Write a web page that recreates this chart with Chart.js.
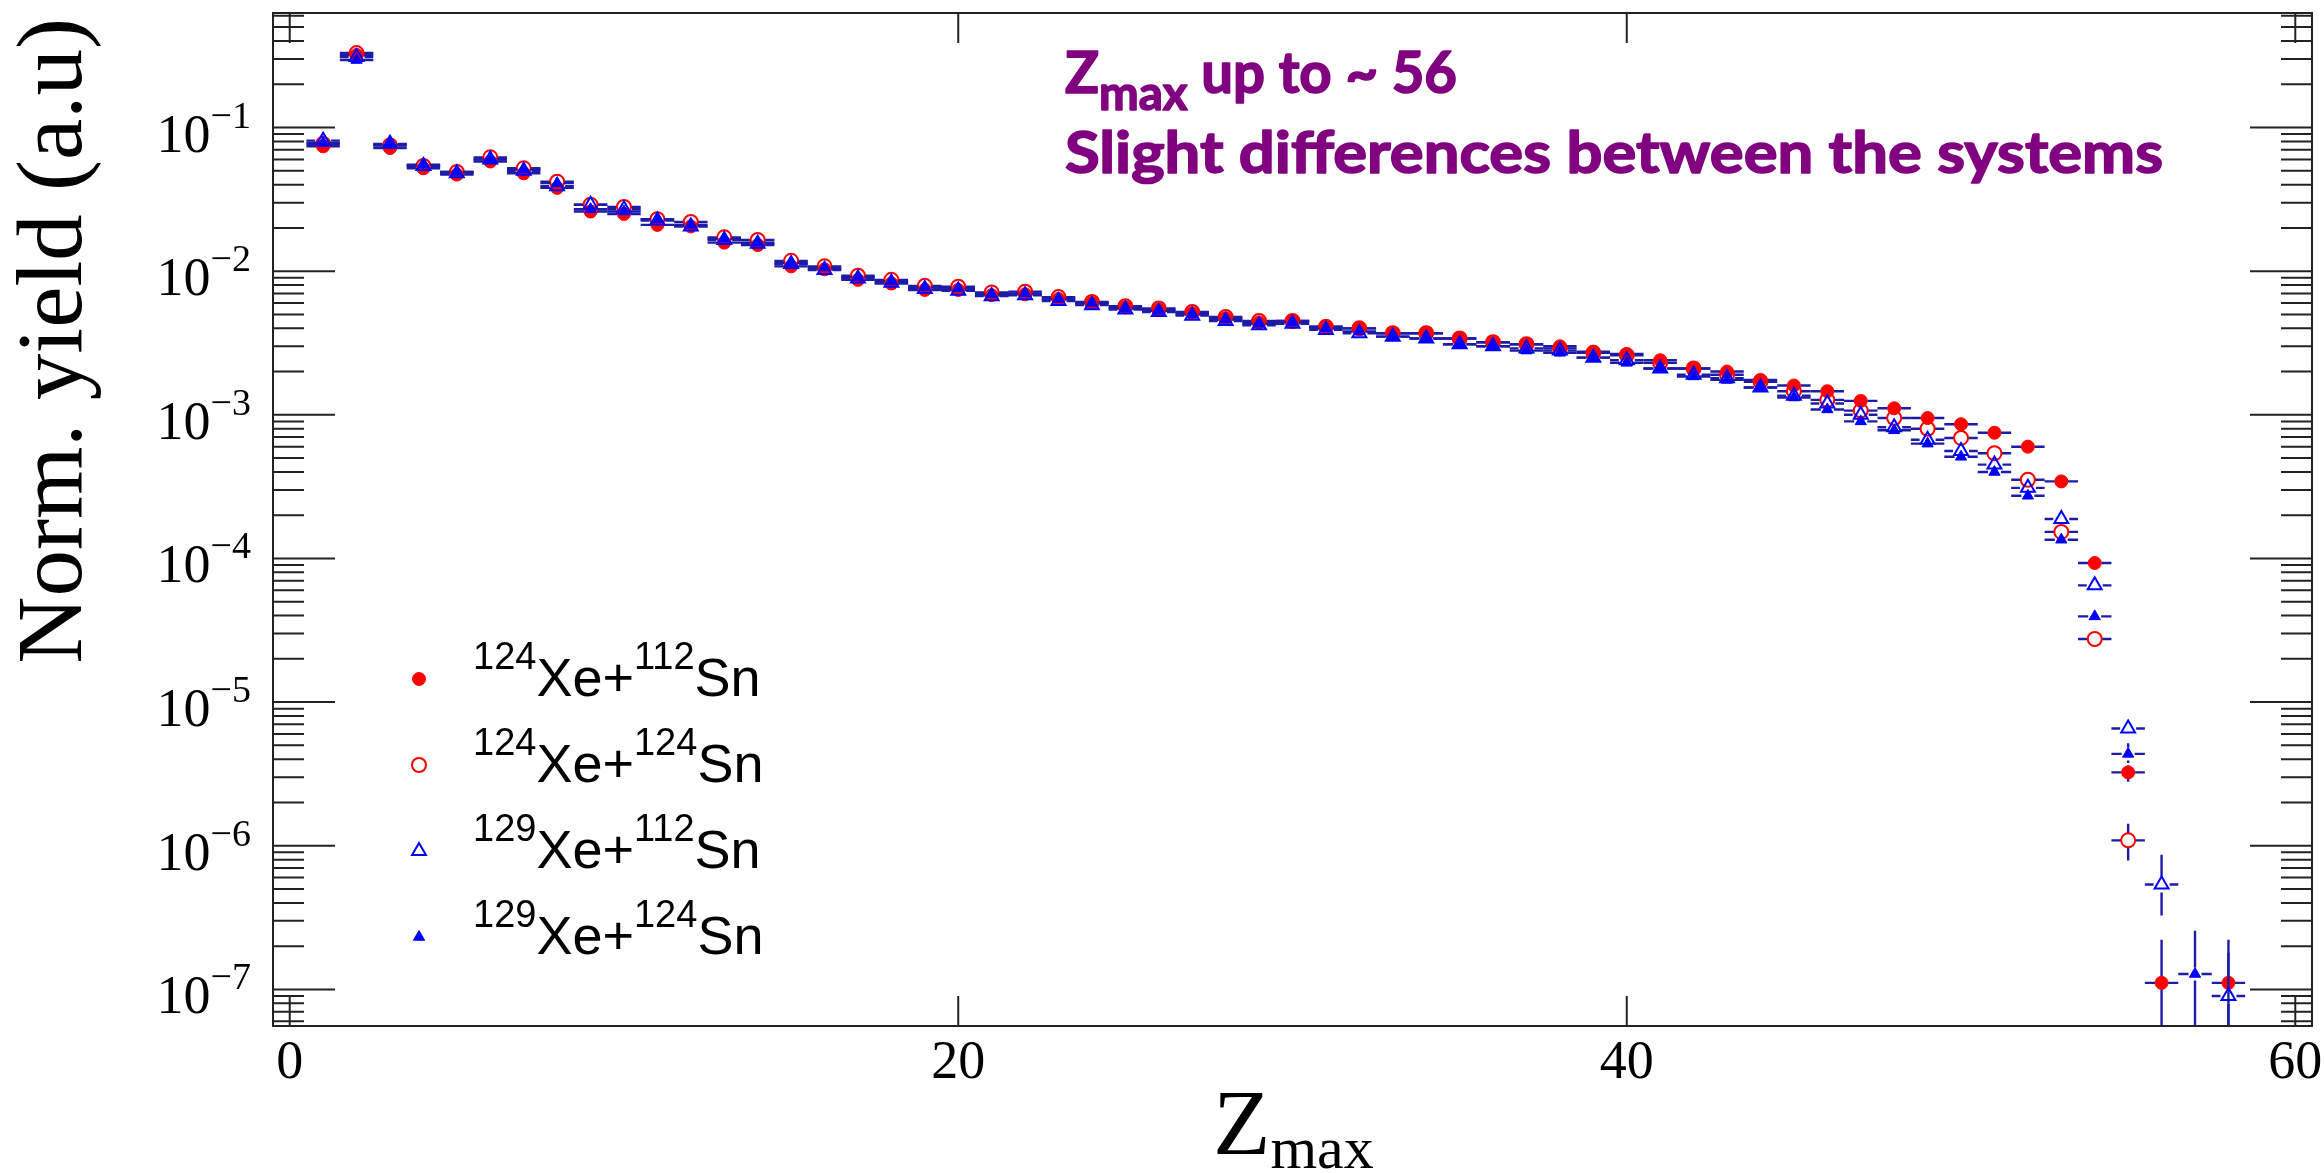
<!DOCTYPE html>
<html>
<head>
<meta charset="utf-8">
<script src="https://cdn.jsdelivr.net/npm/chart.js"></script>
<style>
  html, body { margin: 0; padding: 0; background: #fff; }
  canvas { display: block; }
</style>
</head>
<body>
<canvas id="zmax" width="2324" height="1173"></canvas>
<script>
// charge of the heaviest fragment, one bin per Z
var zBins = [1, 2, 3, 4, 5, 6, 7, 8, 9, 10, 11, 12, 13, 14, 15, 16, 17, 18, 19, 20,
  21, 22, 23, 24, 25, 26, 27, 28, 29, 30, 31, 32, 33, 34, 35, 36, 37, 38, 39, 40,
  41, 42, 43, 44, 45, 46, 47, 48, 49, 50, 51, 52, 53, 54, 55, 56, 57, 58];

var yXe124Sn112 = [0.074, 0.32, 0.072, 0.052, 0.047, 0.058, 0.048, 0.038, 0.026, 0.025,
  0.021, 0.0205, 0.0158, 0.0152, 0.0108, 0.0103, 0.0087, 0.0082, 0.0074, 0.0074,
  0.0068, 0.0069, 0.0064, 0.006, 0.0056, 0.0054, 0.0051, 0.0047, 0.0044, 0.0045,
  0.0041, 0.004, 0.0037, 0.0037, 0.0034, 0.0032, 0.0031, 0.003, 0.00275, 0.00265,
  0.0024, 0.0021, 0.002, 0.00175, 0.0016, 0.00146, 0.00125, 0.00111, 0.00095, 0.00086,
  0.00075, 0.0006, 0.000344, 9.3e-5, 3.24e-6, 1.11e-7, null, 1.11e-7];

var yXe124Sn124 = [0.077, 0.33, 0.075, 0.054, 0.049, 0.062, 0.052, 0.042, 0.029, 0.028,
  0.023, 0.022, 0.0172, 0.0165, 0.0118, 0.0108, 0.0093, 0.0087, 0.0079, 0.0078,
  0.0071, 0.0072, 0.0066, 0.0061, 0.0057, 0.0055, 0.0052, 0.0048, 0.0045, 0.0045,
  0.0041, 0.004, 0.0037, 0.0037, 0.0034, 0.0032, 0.0031, 0.0029, 0.0027, 0.0026,
  0.0023, 0.0021, 0.0019, 0.0017, 0.00146, 0.00127, 0.00107, 0.00095, 0.0008, 0.00069,
  0.00054, 0.000353, 0.000153, 2.75e-5, 1.09e-6, null, null, null];

var yXe129Sn112 = [0.081, 0.31, 0.077, 0.054, 0.048, 0.06, 0.05, 0.039, 0.029, 0.027,
  0.0225, 0.0205, 0.0165, 0.0155, 0.0112, 0.0102, 0.0089, 0.0083, 0.0075, 0.0073,
  0.0067, 0.0068, 0.0062, 0.0058, 0.0054, 0.0052, 0.0049, 0.0045, 0.0042, 0.0043,
  0.0039, 0.0037, 0.0035, 0.0034, 0.0031, 0.003, 0.0029, 0.0028, 0.0025, 0.0024,
  0.0021, 0.0019, 0.0018, 0.00155, 0.00136, 0.0012, 0.001, 0.00082, 0.00067, 0.00056,
  0.00045, 0.00031, 0.000188, 6.5e-5, 6.55e-6, 5.37e-7, null, 9e-8];

var yXe129Sn124 = [0.078, 0.295, 0.076, 0.055, 0.049, 0.06, 0.051, 0.041, 0.027, 0.026,
  0.023, 0.021, 0.0168, 0.0158, 0.0114, 0.0106, 0.0091, 0.0085, 0.0077, 0.0076,
  0.0069, 0.007, 0.0064, 0.006, 0.0055, 0.0053, 0.005, 0.0046, 0.0043, 0.0044,
  0.004, 0.0038, 0.0035, 0.0034, 0.0031, 0.003, 0.0028, 0.0027, 0.0025, 0.0023,
  0.0021, 0.00185, 0.00175, 0.00155, 0.00132, 0.00109, 0.0009, 0.00078, 0.00063, 0.00051,
  0.0004, 0.000273, 0.000135, 3.95e-5, 4.36e-6, null, 1.28e-7, null];

// vertical errors [down, up], only where they reach past the marker
var errXe124Sn112 = { 55: [4.5e-7, 4e-7], 56: [1.11e-7, 1.11e-7], 58: [1.11e-7, 1.11e-7] };
var errXe124Sn124 = { 55: [3e-7, 3.3e-7] };
var errXe129Sn112 = { 55: [6e-7, 6e-7], 56: [2.1e-7, 3.3e-7], 58: [9e-8, 9e-8] };
var errXe129Sn124 = { 55: [6e-7, 8e-7], 57: [1.28e-7, 1.28e-7] };

var legendLabels = ['^{124}Xe+^{112}Sn', '^{124}Xe+^{124}Sn', '^{129}Xe+^{112}Sn', '^{129}Xe+^{124}Sn'];
var xTickValues = [0, 20, 40, 60];
var yTickExponents = [-7, -6, -5, -4, -3, -2, -1];

var SERIF = '"Liberation Serif", "Times New Roman", serif';
var SANS = '"Liberation Sans", Arial, sans-serif';
var barColour = '#1c1ca6';
var frameColour = '#222';

function points(values, errs) {
  var out = [];
  zBins.forEach(function (z, i) {
    if (values[i] == null) return;
    var e = errs[z] || [0, 0];
    out.push({ x: z, y: values[i], lo: e[0], hi: e[1] });
  });
  return out;
}

// split "a^{b}c_{d}" into runs: normal, superscript, subscript
function runs(str) {
  var out = [], re = /\^\{([^}]*)\}|_\{([^}]*)\}|([^^_]+)/g, m;
  while ((m = re.exec(str))) {
    if (m[1] != null) out.push({ t: m[1], k: 'sup' });
    else if (m[2] != null) out.push({ t: m[2], k: 'sub' });
    else out.push({ t: m[3], k: 'n' });
  }
  return out;
}

// st = {size, family, weight, supSize, supRise, subSize, subDrop, squeeze, stroke}
function richWidth(ctx, str, st) {
  var w = 0;
  runs(str).forEach(function (r) {
    var size = r.k === 'sup' ? st.supSize : r.k === 'sub' ? st.subSize : st.size;
    ctx.font = (st.weight || '') + ' ' + size + 'px ' + st.family;
    w += ctx.measureText(r.t).width;
  });
  return w;
}

function drawRich(ctx, str, x, y, st) {
  var sq = st.squeeze || 1;
  runs(str).forEach(function (r) {
    var size = st.size, dy = 0;
    if (r.k === 'sup') { size = st.supSize; dy = -st.supRise; }
    if (r.k === 'sub') { size = st.subSize; dy = st.subDrop; }
    ctx.font = (st.weight || '') + ' ' + size + 'px ' + st.family;
    ctx.save();
    ctx.translate(x, y + dy);
    ctx.scale(sq, 1);
    if (st.stroke) {
      ctx.lineWidth = st.stroke;
      ctx.lineJoin = 'round';
      ctx.strokeStyle = ctx.fillStyle;
      ctx.strokeText(r.t, 0, 0);
    }
    ctx.fillText(r.t, 0, 0);
    ctx.restore();
    x += ctx.measureText(r.t).width * sq;
  });
}

// horizontal bin-width bars and vertical errors, drawn just before each series' markers
var errorBars = {
  id: 'errorBars',
  beforeDatasetDraw: function (chart, args) {
    var ds = chart.data.datasets[args.index];
    var xs = chart.scales.x, ys = chart.scales.y, a = chart.chartArea, ctx = chart.ctx;
    var gap = ds.pointRadius;
    ctx.save();
    ctx.beginPath();
    ctx.rect(a.left, a.top, a.right - a.left, a.bottom - a.top);
    ctx.clip();
    ctx.strokeStyle = barColour;
    ctx.lineWidth = 2.4;
    ctx.beginPath();
    ds.data.forEach(function (p) {
      var px = xs.getPixelForValue(p.x), py = ys.getPixelForValue(p.y);
      var x0 = xs.getPixelForValue(p.x - 0.5), x1 = xs.getPixelForValue(p.x + 0.5);
      ctx.moveTo(x0, py); ctx.lineTo(px - gap, py);
      ctx.moveTo(px + gap, py); ctx.lineTo(x1, py);
      if (p.hi) {
        var yt = ys.getPixelForValue(p.y + p.hi);
        if (yt < py - gap) { ctx.moveTo(px, py - gap); ctx.lineTo(px, yt); }
      }
      if (p.lo) {
        var yb = p.y - p.lo > 0 ? ys.getPixelForValue(p.y - p.lo) : a.bottom + 5;
        if (yb > py + gap) { ctx.moveTo(px, py + gap); ctx.lineTo(px, yb); }
      }
    });
    ctx.stroke();
    ctx.restore();
  }
};

// frame, inward ticks on all four sides, tick labels, titles, legend and note
var frame = {
  id: 'frame',
  afterDraw: function (chart) {
    var xs = chart.scales.x, ys = chart.scales.y, a = chart.chartArea, ctx = chart.ctx;
    ctx.save();
    ctx.strokeStyle = frameColour;
    ctx.lineWidth = 2;
    ctx.strokeRect(a.left, a.top, a.right - a.left, a.bottom - a.top);

    ctx.beginPath();
    xTickValues.forEach(function (v) {
      var px = xs.getPixelForValue(v);
      ctx.moveTo(px, a.bottom); ctx.lineTo(px, a.bottom - 30);
      ctx.moveTo(px, a.top); ctx.lineTo(px, a.top + 30);
    });
    for (var k = -8; k <= 0; k++) {
      for (var m = 1; m <= 9; m++) {
        var v = m * Math.pow(10, k);
        if (v < ys.min || v > ys.max) continue;
        var py = ys.getPixelForValue(v), len = m === 1 ? 62 : 31;
        ctx.moveTo(a.left, py); ctx.lineTo(a.left + len, py);
        ctx.moveTo(a.right, py); ctx.lineTo(a.right - len, py);
      }
    }
    ctx.stroke();

    ctx.fillStyle = '#000';
    ctx.textBaseline = 'alphabetic';
    var tickStyle = { size: 54, family: SERIF, supSize: 38, supRise: 24 };
    yTickExponents.forEach(function (e) {
      var py = ys.getPixelForValue(Math.pow(10, e));
      var label = '10^{\u2212' + (-e) + '}';
      drawRich(ctx, label, a.left - 22 - richWidth(ctx, label, tickStyle), py + 24, tickStyle);
    });
    ctx.font = '54px ' + SERIF;
    ctx.textAlign = 'center';
    xTickValues.forEach(function (v) {
      ctx.fillText(String(v), xs.getPixelForValue(v), a.bottom + 52);
    });
    ctx.textAlign = 'left';

    // axis titles
    drawRich(ctx, 'Z_{max}', 1213, 1154, { size: 94, family: SERIF, subSize: 60, subDrop: 14 });
    ctx.save();
    ctx.translate(81, a.top + 5);
    ctx.rotate(-Math.PI / 2);
    ctx.font = '93px ' + SERIF;
    ctx.textAlign = 'right';
    ctx.fillText('Norm. yield (a.u)', 0, 0);
    ctx.restore();

    // legend
    var legendStyle = { size: 54, family: SANS, supSize: 38, supRise: 27 };
    var baselines = [696, 782, 868, 954];
    chart.data.datasets.forEach(function (ds, i) {
      var y = baselines[i];
      drawMarker(ctx, ds, 419, y - 17);
      ctx.fillStyle = '#000';
      drawRich(ctx, legendLabels[i], 473, y, legendStyle);
    });

    // note in the upper right
    ctx.fillStyle = '#800080';
    var line1 = 'Z_{max} up to ~ 56';
    var line2 = 'Slight differences between the systems';
    var note = { size: 57, family: 'Lato, "Open Sans", sans-serif', weight: 'bold', subSize: 48, subDrop: 17, stroke: 1.6 };
    note.squeeze = 1098 / richWidth(ctx, line2, note);
    drawRich(ctx, line2, 1065, 173, note);
    note.squeeze = 392 / richWidth(ctx, line1, note);
    drawRich(ctx, line1, 1065, 93, note);
    ctx.restore();
  }
};

function drawMarker(ctx, ds, x, y) {
  var r = ds.pointRadius;
  ctx.save();
  ctx.lineWidth = ds.borderWidth;
  ctx.strokeStyle = ds.borderColor;
  ctx.fillStyle = ds.backgroundColor;
  ctx.beginPath();
  if (ds.pointStyle === 'circle') {
    ctx.arc(x, y, r, 0, Math.PI * 2);
  } else {
    for (var j = 0; j < 3; j++) {
      var ang = j * 2 * Math.PI / 3;
      ctx[j ? 'lineTo' : 'moveTo'](x + Math.sin(ang) * r, y - Math.cos(ang) * r);
    }
    ctx.closePath();
  }
  ctx.fill();
  ctx.stroke();
  ctx.restore();
}

var ctx = document.getElementById('zmax').getContext('2d');
var chart = new Chart(ctx, {
  type: 'scatter',
  data: {
    datasets: [{
      label: '124Xe+112Sn',
      data: points(yXe124Sn112, errXe124Sn112),
      pointStyle: 'circle', pointRadius: 6.5,
      backgroundColor: '#ff0000', borderColor: '#ff0000', borderWidth: 1,
      order: 4
    }, {
      label: '124Xe+124Sn',
      data: points(yXe124Sn124, errXe124Sn124),
      pointStyle: 'circle', pointRadius: 7,
      backgroundColor: 'rgba(255,255,255,0)', borderColor: '#ff0000', borderWidth: 2,
      order: 3
    }, {
      label: '129Xe+112Sn',
      data: points(yXe129Sn112, errXe129Sn112),
      pointStyle: 'triangle', pointRadius: 8,
      backgroundColor: 'rgba(255,255,255,0)', borderColor: '#0000ff', borderWidth: 2,
      order: 2
    }, {
      label: '129Xe+124Sn',
      data: points(yXe129Sn124, errXe129Sn124),
      pointStyle: 'triangle', pointRadius: 6.5,
      backgroundColor: '#0000ff', borderColor: '#0000ff', borderWidth: 1,
      order: 1
    }]
  },
  options: {
    responsive: false,
    animation: false,
    events: [],
    layout: { padding: { left: 273, top: 13, right: 12, bottom: 147 } },
    plugins: { legend: { display: false }, tooltip: { enabled: false } },
    scales: {
      x: { type: 'linear', min: -0.5, max: 60.5, display: false },
      y: { type: 'logarithmic', min: 5.56e-8, max: 0.627, display: false }
    }
  },
  plugins: [errorBars, frame]
});
</script>
</body>
</html>
